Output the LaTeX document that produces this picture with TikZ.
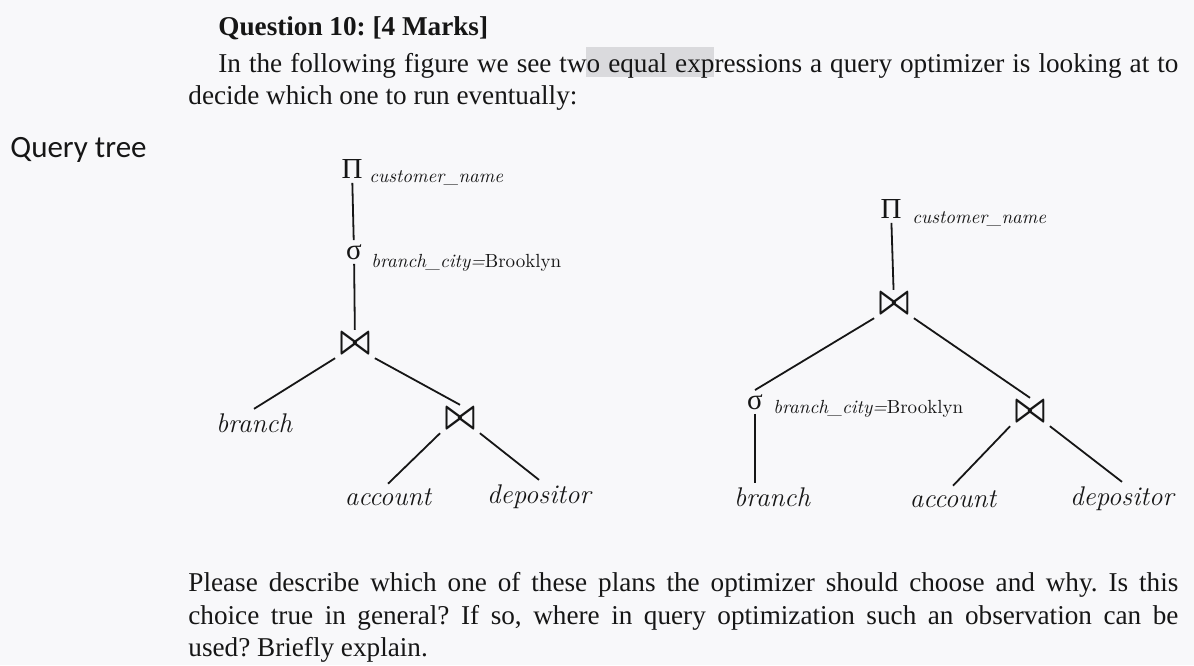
\documentclass[tikz,border=0pt]{standalone}
\usepackage[no-math]{fontspec}
\usepackage{graphicx}
\usepackage{xcolor}
\newfontfamily\timesfont{Liberation Serif}
\newfontfamily\calibrifont{Carlito}
\definecolor{paper}{RGB}{248,248,250}
\definecolor{ink}{RGB}{22,22,22}
\definecolor{marker}{RGB}{218,218,221}
\newcommand{\jointie}{\scalebox{0.78}[1]{\boldmath$\bowtie$}}
\frenchspacing
\tikzset{
	op/.style={inner sep=2pt,font=\timesfont\fontsize{14.5}{15}\selectfont},
	joinop/.style={inner sep=2pt,font=\huge},
	rel/.style={anchor=base,inner sep=2pt,font=\fontsize{13.5}{16}\selectfont\itshape},
	sub/.style={anchor=base west,inner sep=0pt,font=\fontsize{9.5}{11}\selectfont\itshape},
	body/.style={anchor=base west,inner sep=0pt,font=\timesfont\fontsize{13.6}{16}\selectfont},
	link/.style={line width=0.9pt}
}
\begin{document}
\begin{tikzpicture}[x=0.5pt,y=-0.5pt,color=ink]
	\fill[paper] (0,0) rectangle (1194,665);
	\useasboundingbox (0,0) rectangle (1194,665);
	\fill[marker] (586,47) rectangle (714,77);
	\node (title) at (218,35) [body,font=\timesfont\bfseries\fontsize{13.6}{16}\selectfont] {Question 10: [4 Marks]};
	\node (intro1) at (218,72) [body] {\makebox[480pt][s]{In the following figure we see two equal expressions a query optimizer is looking at to}};
	\node (intro2) at (188,104) [body] {decide which one to run eventually:};
	\node (qtree) at (10,157) [anchor=base west,inner sep=0pt,font=\calibrifont\fontsize{15.5}{17}\selectfont] {Query tree};
	\node (pL) at (352,169) [op] {Π};
	\node (pLsub) at (369,182) [sub] {customer\_name};
	\node (sL) at (354,252) [op] {σ};
	\node (sLsub) at (371,267) [sub] {branch\_city={\upshape Brooklyn}};
	\node (jL1) at (355,344) [joinop] {\jointie};
	\node (brL) at (254,432) [rel] {branch};
	\node (jL2) at (460,419) [joinop] {\jointie};
	\node (acL) at (388,505) [rel] {account};
	\node (dpL) at (539,503) [rel] {depositor};
	\draw [link] (pL) -- (sL);
	\draw [link] (sL) -- (jL1);
	\draw [link] (jL1.south west) -- (brL.north);
	\draw [link] (jL1.south east) -- (jL2.north);
	\draw [link] (jL2.south west) -- (acL.north);
	\draw [link] (jL2.south east) -- (dpL.north);
	\node (pR) at (891,209) [op] {Π};
	\node (pRsub) at (912,223) [sub] {customer\_name};
	\node (jR1) at (894,304) [joinop] {\jointie};
	\node (sR) at (755,402) [op] {σ};
	\node (sRsub) at (773,413) [sub] {branch\_city={\upshape Brooklyn}};
	\node (jR2) at (1030,412) [joinop] {\jointie};
	\node (brR) at (772,506) [rel] {branch};
	\node (acR) at (953,507) [rel] {account};
	\node (dpR) at (1122,505) [rel] {depositor};
	\draw [link] (pR) -- (jR1);
	\draw [link] (jR1.south west) -- (sR.north);
	\draw [link] (jR1.south east) -- (jR2.north);
	\draw [link] (sR) -- (sR |- brR.north);
	\draw [link] (jR2.south west) -- (acR.north);
	\draw [link] (jR2.south east) -- (dpR.north);
	\node (ask1) at (188,591) [body] {\makebox[495pt][s]{Please describe which one of these plans the optimizer should choose and why. Is this}};
	\node (ask2) at (188,624) [body] {\makebox[495pt][s]{choice true in general? If so, where in query optimization such an observation can be}};
	\node (ask3) at (188,656) [body] {used? Briefly explain.};
\end{tikzpicture}
\end{document}
